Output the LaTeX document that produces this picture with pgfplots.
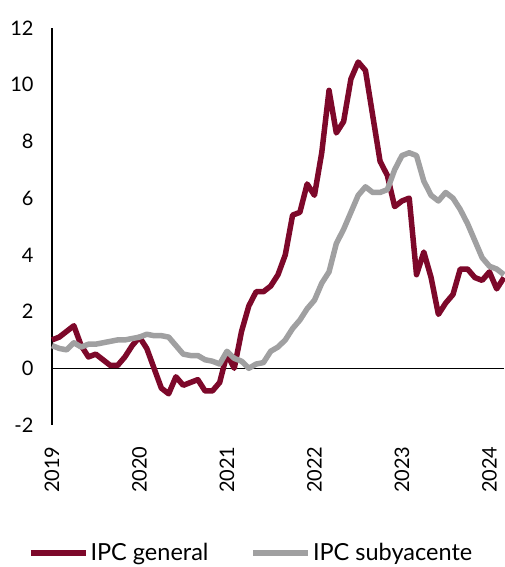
\documentclass[border=0pt]{standalone}
\usepackage{fontspec}
\setmainfont{Lato}
\usepackage{pgfplots}
\usepackage{pgfplotstable}
\pgfplotsset{compat=1.18}
\definecolor{ipcred}{RGB}{125,8,42}
\definecolor{ipcgray}{RGB}{160,160,161}
\pgfplotstableread{
m gen sub
0 1.0 0.8
1 1.1 0.7
2 1.3 0.65
3 1.5 0.9
4 0.8 0.75
5 0.4 0.85
6 0.5 0.85
7 0.3 0.9
8 0.1 0.95
9 0.1 1.0
10 0.4 1.0
11 0.8 1.05
12 1.1 1.1
13 0.7 1.2
14 0.0 1.15
15 -0.7 1.15
16 -0.9 1.1
17 -0.3 0.8
18 -0.6 0.5
19 -0.5 0.45
20 -0.4 0.45
21 -0.8 0.3
22 -0.8 0.25
23 -0.5 0.15
24 0.5 0.6
25 0.0 0.35
26 1.3 0.25
27 2.2 0.0
28 2.7 0.15
29 2.7 0.2
30 2.9 0.6
31 3.3 0.75
32 4.0 1.0
33 5.4 1.4
34 5.5 1.7
35 6.5 2.1
36 6.1 2.4
37 7.6 3.0
38 9.8 3.4
39 8.3 4.4
40 8.7 4.9
41 10.2 5.5
42 10.8 6.1
43 10.5 6.4
44 8.9 6.2
45 7.3 6.2
46 6.8 6.3
47 5.7 7.0
48 5.9 7.5
49 6.0 7.6
50 3.3 7.5
51 4.1 6.6
52 3.2 6.1
53 1.9 5.9
54 2.3 6.2
55 2.6 6.0
56 3.5 5.6
57 3.5 5.1
58 3.2 4.5
59 3.1 3.9
60 3.4 3.6
61 2.8 3.5
62 3.2 3.3
}\datatable
\begin{document}
\begin{tikzpicture}
\useasboundingbox (0,0) rectangle (504pt,567pt);
\begin{axis}[
  at={(52pt,142pt)}, anchor=south west,
  scale only axis, width=452pt, height=397pt,
  xmin=0, xmax=62, ymin=-2, ymax=12,
  axis y line*=left, axis x line*=bottom,
  x axis line style={draw=none},
  y axis line style={-, line width=1.3pt, black},
  major tick length=0pt,
  xtick={0,12,24,36,48,60},
  xticklabels={2019,2020,2021,2022,2023,2024},
  ytick={-2,0,2,4,6,8,10,12},
  yticklabels={-2,0,2,4,6,8,10,12},
  xticklabel style={rotate=90, anchor=east, font=\fontsize{20}{22}\selectfont},
  yticklabel style={font=\fontsize{20}{22}\selectfont},
  xticklabel shift=18pt,
  yticklabel shift=15pt,
  clip=false,
  legend columns=2,
  legend image code/.code={\draw[#1, line width=5.5pt] (0pt,0pt) -- (55pt,0pt);},
  legend style={draw=none, fill=none, inner sep=0pt, outer sep=0pt,
    font=\fontsize{23.5}{28}\selectfont,
    at={(axis description cs:-0.053,-0.322)}, anchor=west,
    /tikz/every even column/.append style={column sep=40pt}},
]
\addplot[black, line width=1.3pt, forget plot] coordinates {(0,0) (62,0)};
\addplot[ipcred, line width=5.5pt, line join=round] table[x=m, y=gen] {\datatable};
\addlegendentry{IPC general}
\addplot[ipcgray, line width=5.5pt, line join=round] table[x=m, y=sub] {\datatable};
\addlegendentry{IPC subyacente}
\end{axis}
\end{tikzpicture}
\end{document}
